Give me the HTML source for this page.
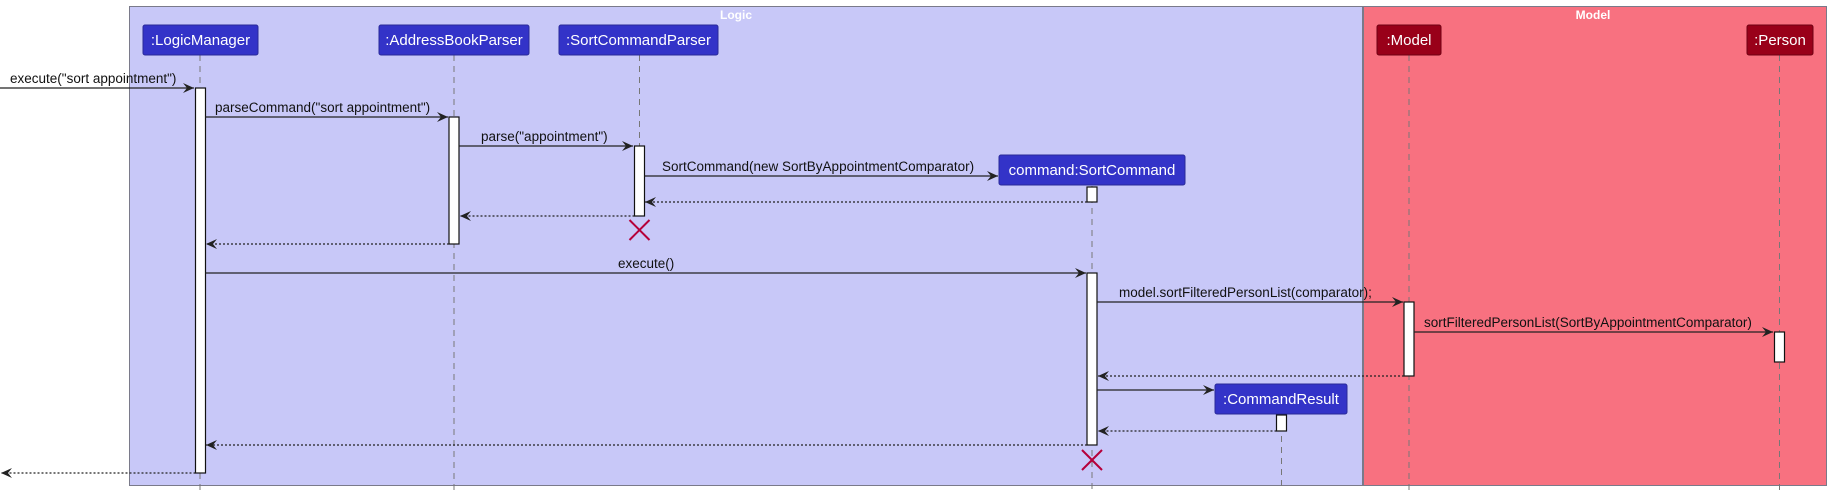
<!DOCTYPE html>
<html><head><meta charset="utf-8"><style>
html,body{margin:0;padding:0;background:#fff;}
svg{display:block;}
text{font-family:"Liberation Sans",sans-serif;font-size:13.5px;fill:#111;}
.hd{fill:#fff;font-size:15px;text-anchor:middle;}
.ft{fill:#fff;font-weight:bold;font-size:12px;text-anchor:middle;}
.ll{stroke:#777;stroke-width:1;stroke-dasharray:6,5;fill:none;}
.act{fill:#fff;stroke:#111;stroke-width:1.2;}
.m{stroke:#222;stroke-width:1.2;fill:none;}
.r{stroke:#222;stroke-width:1.2;fill:none;stroke-dasharray:2,2;}
.x{stroke:#B5003A;stroke-width:2;}
</style></head><body>
<svg width="1828" height="497" viewBox="0 0 1828 497" xmlns="http://www.w3.org/2000/svg">
<defs>
<marker id="a" markerWidth="12" markerHeight="10" refX="11" refY="5" orient="auto" markerUnits="userSpaceOnUse">
<path d="M0,0 L11,5 L0,10 L4,5 Z" fill="#222"/></marker>
</defs>
<!-- frames -->
<rect x="129.5" y="6.5" width="1233" height="479" fill="#C8C8F8" stroke="#7a7a8a" stroke-width="1"/>
<text class="ft" x="736" y="19">Logic</text>
<rect x="1363.5" y="6.5" width="463" height="479" fill="#F87180" stroke="#7a7a8a" stroke-width="1"/>
<text class="ft" x="1593" y="19">Model</text>

<!-- lifelines -->
<line class="ll" x1="200" y1="55" x2="200" y2="491"/>
<line class="ll" x1="454" y1="55" x2="454" y2="491"/>
<line class="ll" x1="639.5" y1="55" x2="639.5" y2="220"/>
<line class="ll" x1="1092" y1="186" x2="1092" y2="491"/>
<line class="ll" x1="1281.5" y1="414" x2="1281.5" y2="491"/>
<line class="ll" x1="1409" y1="55" x2="1409" y2="491"/>
<line class="ll" x1="1779.5" y1="55" x2="1779.5" y2="491"/>

<!-- participant boxes -->
<rect x="143" y="25" width="115" height="30" rx="2" fill="#3333C8" stroke="#2a2a99"/>
<text class="hd" x="200.5" y="45">:LogicManager</text>
<rect x="379" y="25" width="150" height="30" rx="2" fill="#3333C8" stroke="#2a2a99"/>
<text class="hd" x="454" y="45">:AddressBookParser</text>
<rect x="559" y="25" width="159" height="30" rx="2" fill="#3333C8" stroke="#2a2a99"/>
<text class="hd" x="638.5" y="45">:SortCommandParser</text>
<rect x="999" y="155" width="186" height="30" rx="2" fill="#3333C8" stroke="#2a2a99"/>
<text class="hd" x="1092" y="175">command:SortCommand</text>
<rect x="1215" y="384" width="132" height="30" rx="2" fill="#3333C8" stroke="#2a2a99"/>
<text class="hd" x="1281" y="404">:CommandResult</text>
<rect x="1377" y="25" width="64" height="30" rx="2" fill="#990019" stroke="#700012"/>
<text class="hd" x="1409" y="45">:Model</text>
<rect x="1747" y="25" width="66" height="30" rx="2" fill="#990019" stroke="#700012"/>
<text class="hd" x="1780" y="45">:Person</text>

<!-- activations -->
<rect class="act" x="195.5" y="88" width="10" height="385"/>
<rect class="act" x="449" y="117" width="10" height="127"/>
<rect class="act" x="634.5" y="146" width="10" height="70"/>
<rect class="act" x="1087" y="187" width="10" height="15"/>
<rect class="act" x="1087" y="273" width="10" height="172"/>
<rect class="act" x="1404" y="302" width="10" height="74"/>
<rect class="act" x="1774.5" y="332" width="10" height="30"/>
<rect class="act" x="1276.5" y="415" width="10" height="16"/>

<!-- messages -->
<line class="m" x1="0" y1="88" x2="194" y2="88" marker-end="url(#a)"/>
<text x="10" y="83">execute("sort appointment")</text>
<line class="m" x1="205.5" y1="117" x2="448" y2="117" marker-end="url(#a)"/>
<text x="215" y="112">parseCommand("sort appointment")</text>
<line class="m" x1="459" y1="146" x2="633" y2="146" marker-end="url(#a)"/>
<text x="481" y="141">parse("appointment")</text>
<line class="m" x1="644.5" y1="176" x2="998" y2="176" marker-end="url(#a)"/>
<text x="662" y="171">SortCommand(new SortByAppointmentComparator)</text>
<line class="r" x1="1087" y1="202" x2="645" y2="202" marker-end="url(#a)"/>
<line class="r" x1="634.5" y1="216" x2="460" y2="216" marker-end="url(#a)"/>
<line class="r" x1="449" y1="244" x2="206" y2="244" marker-end="url(#a)"/>
<line class="m" x1="205.5" y1="273" x2="1086" y2="273" marker-end="url(#a)"/>
<text x="618" y="268">execute()</text>
<line class="m" x1="1097" y1="302" x2="1403" y2="302" marker-end="url(#a)"/>
<text x="1119" y="297">model.sortFilteredPersonList(comparator);</text>
<line class="m" x1="1414" y1="332" x2="1773" y2="332" marker-end="url(#a)"/>
<text x="1424" y="327">sortFilteredPersonList(SortByAppointmentComparator)</text>
<line class="r" x1="1404" y1="376" x2="1098" y2="376" marker-end="url(#a)"/>
<line class="m" x1="1097" y1="390" x2="1214" y2="390" marker-end="url(#a)"/>
<line class="r" x1="1276.5" y1="431" x2="1098" y2="431" marker-end="url(#a)"/>
<line class="r" x1="1087" y1="445" x2="206" y2="445" marker-end="url(#a)"/>
<line class="r" x1="195.5" y1="473" x2="1" y2="473" marker-end="url(#a)"/>

<!-- destroy marks -->
<line class="x" x1="629.5" y1="220" x2="649.5" y2="240"/><line class="x" x1="649.5" y1="220" x2="629.5" y2="240"/>
<line class="x" x1="1082" y1="450" x2="1102" y2="470"/><line class="x" x1="1102" y1="450" x2="1082" y2="470"/>
</svg>
</body></html>
